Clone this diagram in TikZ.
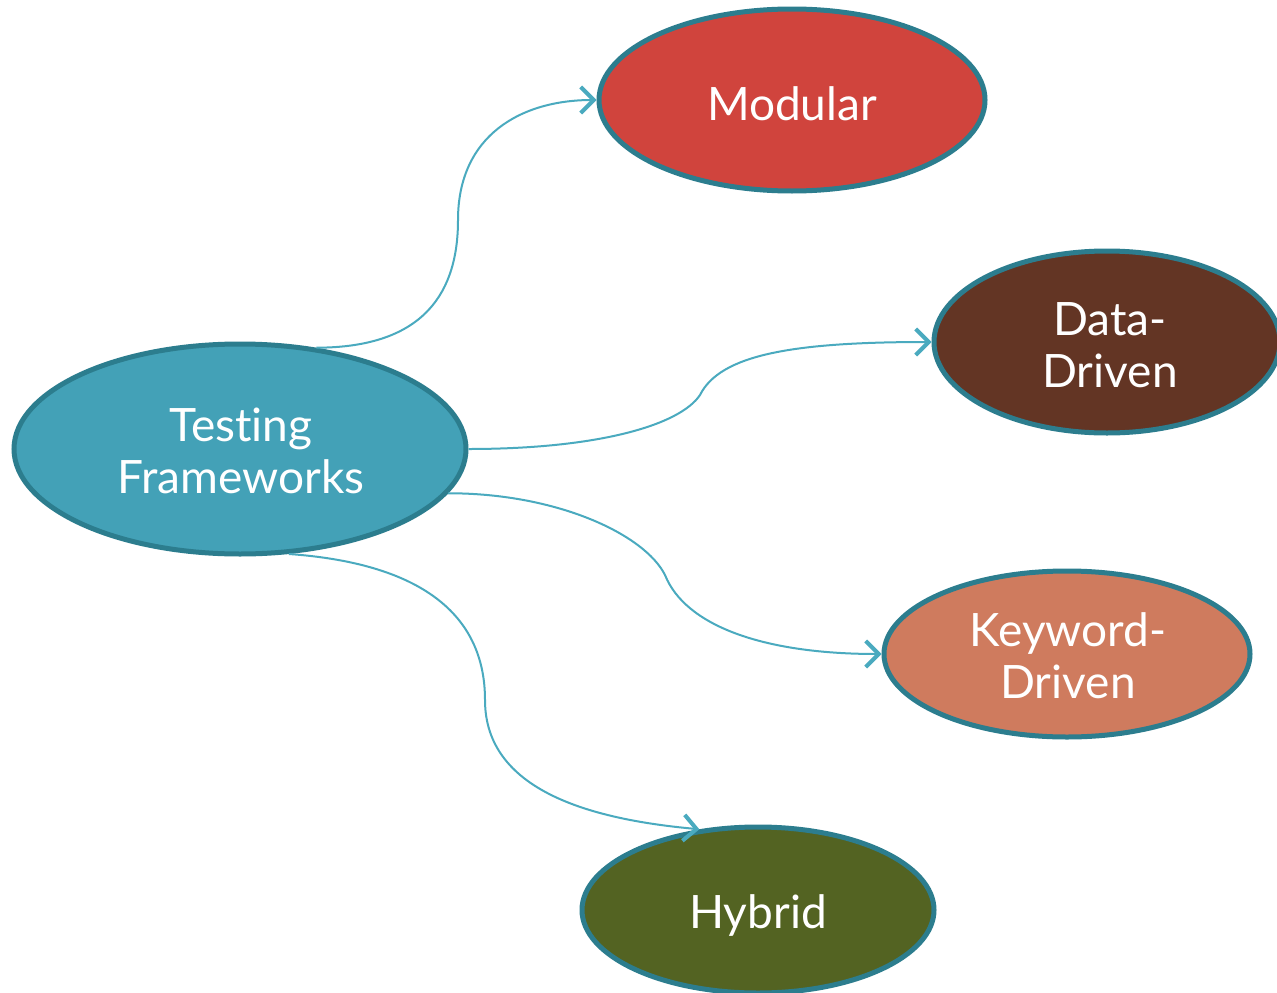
\documentclass[tikz,border=0pt]{standalone}
\usepackage{fontspec}
\setmainfont{Lato}[Ligatures={NoCommon}]
\usetikzlibrary{shapes.geometric,arrows.meta}
\definecolor{tfill}{HTML}{43A1B7}
\definecolor{tborder}{HTML}{2C7D8E}
\definecolor{conn}{HTML}{4AAABF}
\definecolor{modfill}{HTML}{D0443D}
\definecolor{datafill}{HTML}{633524}
\definecolor{keyfill}{HTML}{CF7B5E}
\definecolor{hybfill}{HTML}{536322}
\tikzset{
  oval/.style={ellipse, draw=tborder, line width=5pt, inner sep=0pt},
  lbl/.style={text=white, align=center, font=\fontsize{46}{52}\selectfont},
  link/.style={draw=conn, line width=2pt, -{Straight Barb[length=13pt,width=26pt,line width=4pt]}}
}
\begin{document}
\begin{tikzpicture}[x=1pt,y=-1pt]
\clip (0,0) rectangle (1277,993);
\fill[white] (0,0) rectangle (1277,993);
\node[oval, fill=tfill, minimum width=452pt, minimum height=210pt] (tf) at (240,449) {};
\node[lbl] (tft) at (241,451) {Testing\\Frameworks};
\node[oval, fill=modfill, minimum width=386pt, minimum height=182pt] (mod) at (792,100) {};
\node[lbl] (modt) at (792,104) {Modular};
\node[oval, fill=datafill, minimum width=346pt, minimum height=182pt] (dd) at (1107,342) {};
\node[lbl] (ddt) at (1110,345) {Data-\\Driven};
\node[oval, fill=keyfill, minimum width=366pt, minimum height=166pt] (kd) at (1067,654) {};
\node[lbl] (kdt) at (1068,656) {Keyword-\\Driven};
\node[oval, fill=hybfill, minimum width=352pt, minimum height=166pt] (hy) at (758,910) {};
\node[lbl] (hyt) at (758,915) {Hybrid};
\draw[link] (tf.53) .. controls +(110,0) and +(0,70) .. (458,220) .. controls +(0,-85) and +(-75,0) .. (mod.west);
\draw[link] (tf.east) .. controls +(130,0) and +(-20,30) .. (700,395) .. controls +(20,-40) and +(-140,0) .. (dd.west);
\draw[link] (tf.-12) .. controls +(110,0) and +(-20,-40) .. (665,575) .. controls +(20,50) and +(-120,0) .. (kd.west);
\draw[link] (tf.-65) .. controls +(140,10) and +(0,-80) .. (485,700) .. controls +(0,90) and +(-110,-10) .. (hy.126);
\end{tikzpicture}
\end{document}
